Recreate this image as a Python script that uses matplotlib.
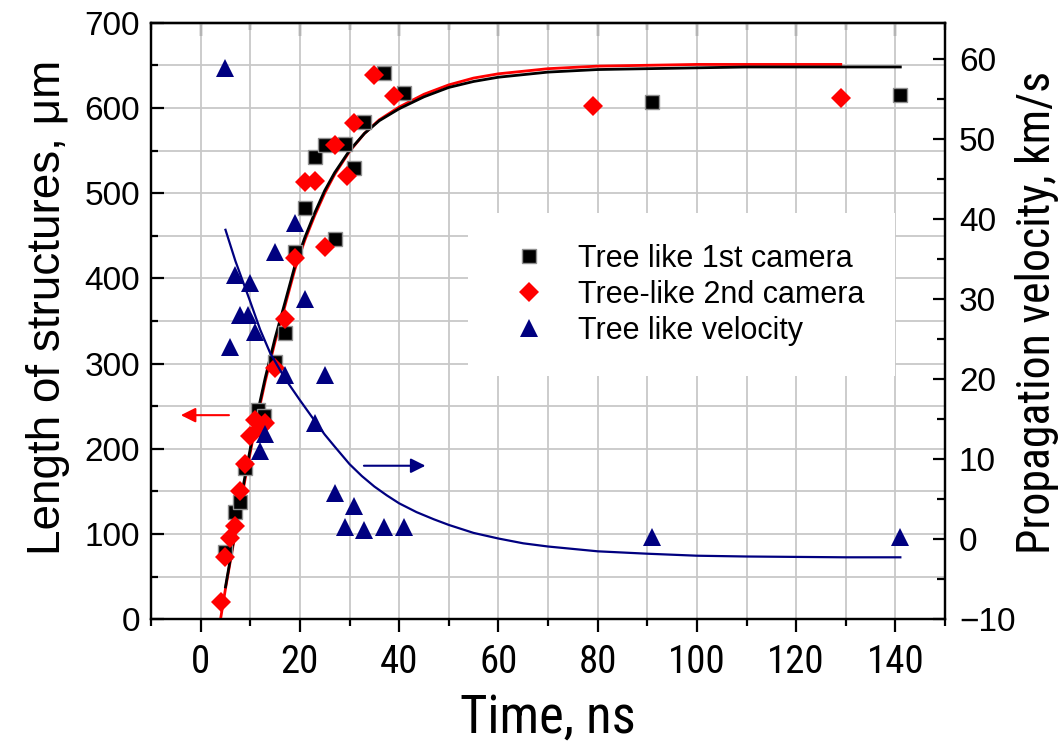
"""Tree-like structure length and propagation velocity versus time."""

import matplotlib

matplotlib.use("Agg")
import matplotlib.pyplot as plt
from matplotlib import font_manager
from matplotlib.ticker import MultipleLocator

# 1st camera (black squares), length in um
cam1_t = [5, 7, 8, 9, 11.5, 12.7, 15, 17, 19, 21, 23, 25, 27, 29, 31, 33, 37, 41, 91, 141]
cam1_len = [79, 126, 138, 178, 245, 239, 302, 336, 431, 483, 542, 557, 446, 558, 529,
            583, 641, 617, 607, 615]

# 2nd camera (red diamonds), length in um
cam2_t = [4, 5, 6, 7, 8, 9, 10, 11, 12, 13, 15, 17, 19, 21, 23, 25, 27, 29.4, 31, 35,
          39, 79, 129]
cam2_len = [20, 73, 95, 109, 151, 182, 215, 234, 224, 230, 295, 352, 424, 513, 514, 437,
            556, 520, 582, 639, 614, 602, 612]

# velocity (blue triangles), km/s
vel_t = [5, 6, 7, 8, 9.5, 10, 11, 12, 13, 15, 17, 19, 21, 23, 25, 27, 29, 31, 33, 37,
         41, 91, 141]
vel_v = [58.9, 24.0, 33.0, 28.0, 28.0, 32.0, 25.9, 11.0, 13.2, 35.9, 20.5, 39.5, 30.0,
         14.5, 20.5, 5.8, 1.5, 4.2, 1.2, 1.5, 1.5, 0.3, 0.3]

# fitted curves
fit1_t = [5, 7, 9, 11, 13, 15, 17, 19, 21, 23, 25, 27, 30, 33, 36, 40, 45, 50, 55, 60,
          70, 80, 90, 100, 110, 120, 130, 141]
fit1_len = [38, 105, 170, 230, 283, 330, 372, 415, 448, 477, 503, 524, 550, 570, 585,
            599, 613, 624, 631, 636, 642, 645, 646, 647, 648, 648, 648, 648]
fit2_t = [4, 5, 7, 9, 11, 13, 15, 17, 19, 21, 23, 25, 27, 30, 33, 36, 40, 45, 50, 55,
          60, 70, 80, 90, 100, 110, 120, 129]
fit2_len = [0, 36, 102, 166, 226, 279, 326, 368, 411, 445, 474, 500, 522, 549, 570, 586,
            601, 616, 627, 635, 640, 646, 649, 650, 651, 651, 651, 651]
fitv_t = [5, 7, 10, 12, 14, 17, 20, 23, 25, 27, 30, 32.5, 35, 37.5, 40, 43.5, 47, 50,
          55, 60, 65, 70, 80, 90, 100, 110, 120, 130, 141]
fitv_v = [38.7, 34.8, 29.7, 26.2, 23.3, 20.1, 17.4, 14.8, 13.1, 11.6, 9.4, 7.9, 6.6,
          5.5, 4.5, 3.4, 2.5, 1.8, 0.8, 0.1, -0.5, -0.9, -1.5, -1.8, -2.05, -2.15, -2.2,
          -2.25, -2.25]

NAVY = "#000080"
SANS = ["Liberation Sans", "DejaVu Sans"]

installed = {f.name for f in font_manager.fontManager.ttflist}
narrow_pick = None
for name in ["Liberation Sans Narrow", "Arial Narrow", "Roboto Condensed",
             "Open Sans Condensed", "DejaVu Sans Condensed"]:
    if name in installed:
        narrow_pick = name
        break
if narrow_pick:
    NARROW = [narrow_pick, "Liberation Sans"]
    xtick_size, xlabel_size, rlabel_size = 28, 38, 33
else:
    NARROW = SANS
    xtick_size, xlabel_size, rlabel_size = 25, 33, 28

plt.rcParams["font.family"] = SANS

fig = plt.figure(figsize=(10.6, 7.43), dpi=100)
ax1 = fig.add_axes([0.1425, 0.1665, 0.749, 0.803])
ax2 = ax1.twinx()

ax1.set_xlim(-10, 150)
ax1.set_ylim(0, 700)
ax2.set_ylim(-10, 64.6)

# grid on the left axis
ax1.xaxis.set_major_locator(MultipleLocator(20))
ax1.xaxis.set_minor_locator(MultipleLocator(10))
ax1.yaxis.set_major_locator(MultipleLocator(100))
ax1.yaxis.set_minor_locator(MultipleLocator(50))
ax1.grid(True, which="both", color="#c8c8c8", linewidth=1.3)
ax1.set_axisbelow(True)

# data
ax1.plot(fit2_t, fit2_len, color="red", linewidth=2.0, zorder=3)
ax1.plot(fit1_t, fit1_len, color="black", linewidth=2.0, zorder=3)
sq = ax1.plot(cam1_t, cam1_len, linestyle="none", marker="s", markersize=10,
              markerfacecolor="black", markeredgecolor="#909090", markeredgewidth=1.0,
              zorder=4, label="Tree like 1st camera")[0]
di = ax1.plot(cam2_t, cam2_len, linestyle="none", marker="D", markersize=10.5,
              color="red", markeredgewidth=0, zorder=5, label="Tree-like 2nd camera")[0]

ax2.plot(fitv_t, fitv_v, color=NAVY, linewidth=1.6, zorder=3)
tr = ax2.plot(vel_t, vel_v, linestyle="none", marker="^", markersize=13, color=NAVY,
              markeredgewidth=0, zorder=4, label="Tree like velocity")[0]

# direction arrows
ax1.annotate("", xy=(-4.0, 239.5), xytext=(5.7, 239.5),
             arrowprops=dict(arrowstyle="-|>", color="red", lw=1.5, mutation_scale=22,
                             shrinkA=0, shrinkB=0))
ax2.annotate("", xy=(45.3, 9.2), xytext=(32.9, 9.2),
             arrowprops=dict(arrowstyle="-|>", color=NAVY, lw=1.5, mutation_scale=22,
                             shrinkA=0, shrinkB=0))

# ticks
ax1.tick_params(axis="x", which="both", direction="out", top=False, width=1.6,
                labelsize=xtick_size, pad=9)
ax1.tick_params(axis="x", which="major", length=9)
ax1.tick_params(axis="x", which="minor", length=5)
ax1.tick_params(axis="y", which="both", direction="in", right=False, width=1.6,
                labelsize=24, pad=8)
ax1.tick_params(axis="y", which="major", length=9)
ax1.tick_params(axis="y", which="minor", length=5)
for lab in ax1.get_xticklabels():
    lab.set_family(NARROW)

top = ax1.secondary_xaxis("top")
top.xaxis.set_major_locator(MultipleLocator(20))
top.xaxis.set_minor_locator(MultipleLocator(10))
top.tick_params(which="both", direction="in", labeltop=False, width=1.6)
top.tick_params(which="major", length=9)
top.tick_params(which="minor", length=5)
top.spines["top"].set_linewidth(1.6)

ax2.yaxis.set_major_locator(MultipleLocator(10))
ax2.yaxis.set_minor_locator(MultipleLocator(5))
ax2.tick_params(axis="y", which="both", direction="in", width=1.6, labelsize=24, pad=10)
ax2.tick_params(axis="y", which="major", length=9)
ax2.tick_params(axis="y", which="minor", length=6)

for ax in (ax1, ax2):
    for sp in ax.spines.values():
        sp.set_linewidth(1.6)

ax1.set_xlabel("Time, ns", fontsize=xlabel_size, family=NARROW, labelpad=8)
ax1.set_ylabel("Length of structures, \u03bcm", fontsize=33, labelpad=10)
ax1.yaxis.label.set_y(0.523)
ax2.set_ylabel("Propagation velocity, km/s", fontsize=rlabel_size, family=NARROW,
               labelpad=0)
ax2.yaxis.label.set_y(0.515)

leg = ax2.legend(handles=[sq, di, tr], loc="upper left", bbox_to_anchor=(0.399, 0.681),
                 fontsize=22, borderpad=1.0, handlelength=2.0, handletextpad=0.6,
                 labelspacing=0.2, frameon=True, fancybox=False, framealpha=1.0,
                 facecolor="white", edgecolor="none", borderaxespad=0)
leg.set_zorder(10)

fig.savefig("out.png", dpi=100)
